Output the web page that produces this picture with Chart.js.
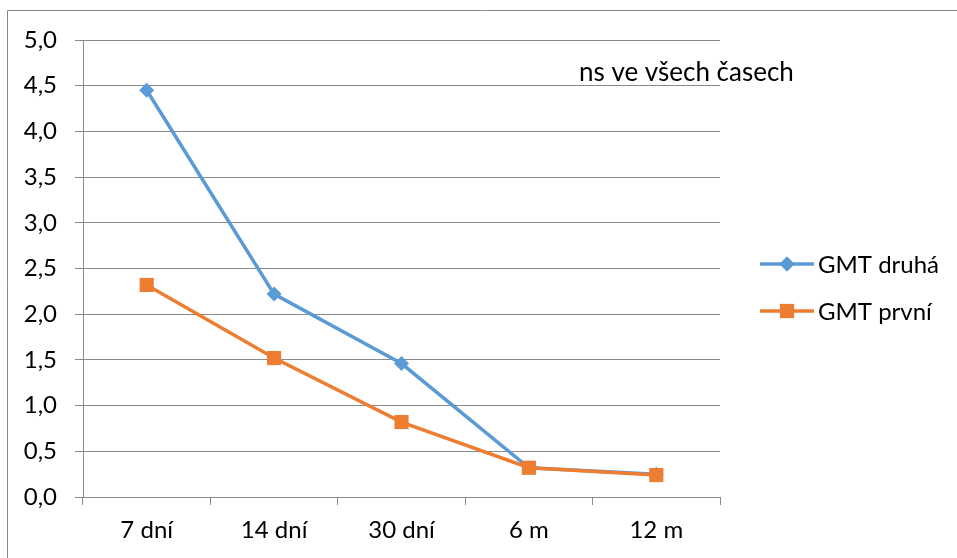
<!DOCTYPE html>
<html>
<head>
<meta charset="utf-8">
<script src="https://cdn.jsdelivr.net/npm/chart.js@4/dist/chart.umd.min.js"></script>
<style>
  html, body { margin: 0; padding: 0; background: #fff; }
  #wrap { position: relative; width: 957px; height: 558px; }
</style>
</head>
<body>
<div id="wrap"><canvas id="c" width="957" height="558"></canvas></div>
<script>
const categories = ['7 dní', '14 dní', '30 dní', '6 m', '12 m'];
const gmtDruha = [4.45, 2.22, 1.46, 0.32, 0.25];
const gmtPrvni = [2.32, 1.52, 0.82, 0.32, 0.24];
const seriesNames = ['GMT druhá', 'GMT první'];
const noteText = 'ns ve všech časech';

const BLUE = '#5B9BD5';
const ORANGE = '#ED7D31';
const GRID = '#8a8a8a';
const FONT = 'Lato, "Noto Sans", sans-serif';
const LINE_W = 3.5;

// frame, floating note and a line-with-marker legend
const decorations = {
  id: 'decorations',
  afterDraw(chart) {
    const ctx = chart.ctx;
    ctx.save();
    ctx.strokeStyle = GRID;
    ctx.lineWidth = 1;
    ctx.beginPath();
    ctx.moveTo(7.5, 558);
    ctx.lineTo(7.5, 10.5);
    ctx.lineTo(957, 10.5);
    ctx.stroke();

    ctx.fillStyle = '#000';
    ctx.font = '26px ' + FONT;
    ctx.textBaseline = 'middle';
    ctx.textAlign = 'left';
    ctx.fillText(noteText, 579, 73);

    const rows = [
      { name: seriesNames[0], color: BLUE, style: 'rectRot', r: 7.5, y: 264 },
      { name: seriesNames[1], color: ORANGE, style: 'rect', r: 10, y: 311 }
    ];
    ctx.font = '24px ' + FONT;
    rows.forEach(row => {
      ctx.strokeStyle = row.color;
      ctx.lineWidth = LINE_W;
      ctx.beginPath();
      ctx.moveTo(760, row.y);
      ctx.lineTo(814, row.y);
      ctx.stroke();
      ctx.fillStyle = row.color;
      Chart.helpers.drawPoint(ctx, { pointStyle: row.style, radius: row.r, borderWidth: 0, rotation: 0 }, 787, row.y);
      ctx.fill();
      ctx.fillStyle = '#000';
      ctx.fillText(row.name, 818, row.y + 1);
    });
    ctx.restore();
  }
};

new Chart(document.getElementById('c'), {
  type: 'line',
  data: {
    labels: categories,
    datasets: [
      {
        label: seriesNames[0],
        data: gmtDruha,
        borderColor: BLUE,
        backgroundColor: BLUE,
        borderWidth: LINE_W,
        pointStyle: 'rectRot',
        pointRadius: 7.5,
        pointBorderWidth: 0,
        tension: 0,
        order: 1
      },
      {
        label: seriesNames[1],
        data: gmtPrvni,
        borderColor: ORANGE,
        backgroundColor: ORANGE,
        borderWidth: LINE_W,
        pointStyle: 'rect',
        pointRadius: 10,
        pointBorderWidth: 0,
        tension: 0,
        order: 0
      }
    ]
  },
  options: {
    responsive: false,
    animation: false,
    devicePixelRatio: 1,
    layout: { padding: { left: 0, top: 40, right: 237, bottom: 0 } },
    plugins: {
      legend: { display: false },
      tooltip: { enabled: false }
    },
    scales: {
      x: {
        offset: true,
        afterFit(s) { s.height = 61; },
        grid: {
          offset: true,
          drawOnChartArea: false,
          drawTicks: true,
          tickLength: 8,
          color: GRID
        },
        border: { color: GRID, width: 1 },
        ticks: { color: '#000', font: { family: FONT, size: 24 }, padding: 11, maxRotation: 0 }
      },
      y: {
        min: 0,
        max: 5,
        afterFit(s) { s.width = 83; },
        grid: { color: GRID, tickLength: 8, drawTicks: true },
        border: { color: GRID, width: 1 },
        ticks: {
          stepSize: 0.5,
          color: '#000',
          font: { family: FONT, size: 24 },
          padding: 18,
          callback: v => v.toFixed(1).replace('.', ',')
        }
      }
    }
  },
  plugins: [decorations]
});
</script>
</body>
</html>
